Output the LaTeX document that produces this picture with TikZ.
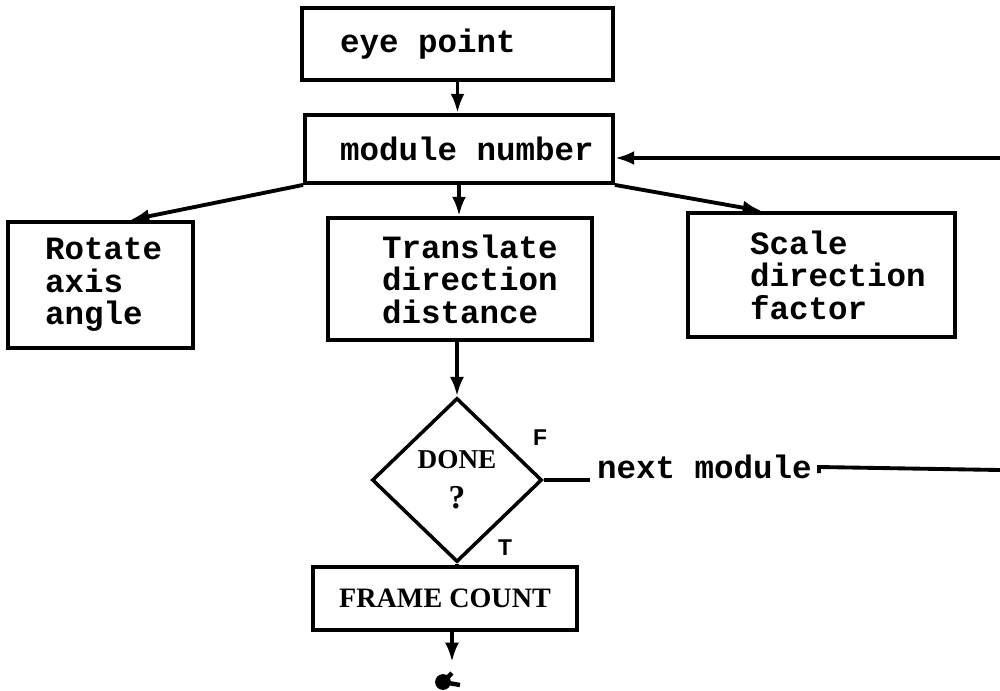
\documentclass[tikz,border=0pt]{standalone}
\usepackage{fontspec}
\usepackage{tikz}
\usetikzlibrary{shapes.geometric,arrows.meta}
\newfontfamily\typewriter{Liberation Mono}
\newfontfamily\typeserif{Liberation Serif}
\newfontfamily\typesans{Liberation Sans}
\newcommand\tw{\typewriter\bfseries\fontsize{18.5}{18.5}\selectfont}

\begin{document}
\begin{tikzpicture}[x=0.02cm, y=-0.02cm, line width=2.2pt, >={Latex[length=11pt,width=8pt]},
    box/.style={draw, align=left, inner ysep=0pt, font=\tw, execute at begin node={\spaceskip=0pt\relax}},
    flag/.style={font=\typesans\bfseries\fontsize{13}{14}\selectfont}]
\useasboundingbox (0,0) rectangle (1000,690);

\node (eye) [box, text width=4.70cm, inner xsep=0.76cm, minimum height=1.44cm] at (457.5,44) {\mbox{eye point}};
\node (module) [box, text width=4.76cm, inner xsep=0.70cm, minimum height=1.36cm] at (459,149) {\mbox{module number}};
\node (rotate) [box, text width=2.22cm, inner xsep=0.74cm, minimum height=2.52cm] at (100.5,285) {Rotate\\axis\\angle};
\node (translate) [box, text width=3.12cm, inner xsep=1.08cm, minimum height=2.44cm] at (460,279) {Translate\\direction\\distance};
\node (scale) [box, text width=2.86cm, inner xsep=1.24cm, minimum height=2.48cm] at (821.5,275) {Scale\\direction\\factor};
\node (done) [draw, diamond, line width=2pt, minimum width=3.4cm, minimum height=3.28cm, inner sep=0pt, align=center,
    font=\typeserif\bfseries\fontsize{15.5}{23}\selectfont] at (457,480) {DONE\\{\fontsize{19}{19}\selectfont ?}};
\node (frame) [draw, minimum width=5.28cm, minimum height=1.26cm, font=\typeserif\bfseries\fontsize{16}{18}\selectfont] at (445,598.5) {FRAME COUNT};
\node (next) [anchor=west, inner xsep=3pt, font=\tw] at (590,467) {next module};
\node (F) [flag] at (540,438) {F};
\node (T) [flag] at (505,548) {T};
\coordinate (loopin) at (1000,158);
\coordinate (loopout) at (1000,470);
\coordinate (stub) at (452,662);
\coordinate (endmark) at (443,682);

\draw[->] (eye.south) -- (eye.south |- module.north);
\draw[->] (module.south west) -- ([xshift=0.59cm]rotate.north);
\draw[->] (module.south) -- (module.south |- translate.north);
\draw[->] (module.south east) -- ([xshift=-1.19cm]scale.north);
\draw[->] (loopin) -- (module.east |- loopin);
\draw[->] (done.north |- translate.south) -- (done.north);
\draw (done.east) -- (done.east -| next.west);
\draw (next.east) ++(0,6) -- (next.east) -- (loopout);
\draw (done.south) -- (done.south |- frame.north);
\draw[->] (frame.south -| stub) -- (stub);
\fill (endmark) circle [radius=4.5pt];
\draw[line width=2.5pt] (endmark) -- ++(9,-9) (endmark) -- ++(17,3);
\end{tikzpicture}
\end{document}
